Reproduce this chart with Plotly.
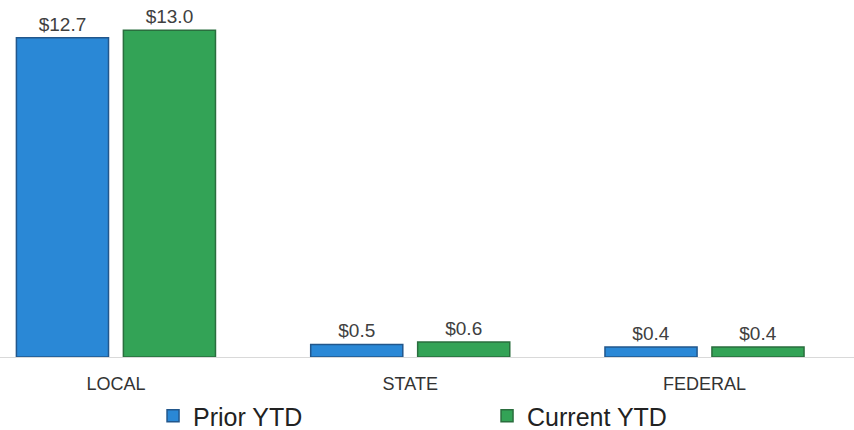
import plotly.graph_objects as go

categories = ["LOCAL", "STATE", "FEDERAL"]
prior_ytd = [12.7, 0.5, 0.4]
current_ytd = [13.0, 0.6, 0.4]
series_names = ["Prior YTD", "Current YTD"]

def labels(vals):
    return [f"${v:.1f}" for v in vals]

fig = go.Figure()
fig.add_trace(go.Bar(
    x=categories, y=prior_ytd, name=series_names[0],
    marker=dict(color="#2a88d6", line=dict(color="#22578c", width=1.5)),
    text=labels(prior_ytd), textposition="outside", cliponaxis=False,
    textfont=dict(size=19, color="#404040"),
))
fig.add_trace(go.Bar(
    x=categories, y=current_ytd, name=series_names[1],
    marker=dict(color="#33a356", line=dict(color="#2a6e3e", width=1.5)),
    text=labels(current_ytd), textposition="outside", cliponaxis=False,
    textfont=dict(size=19, color="#404040"),
))

fig.update_layout(
    width=854, height=430,
    margin=dict(l=0, r=0, t=0, b=73, autoexpand=False),
    paper_bgcolor="white", plot_bgcolor="white",
    font=dict(family="Liberation Sans, Arial, sans-serif", color="#333333"),
    barmode="group", bargap=0.273, bargroupgap=0.139,
    xaxis=dict(range=[-0.394, 2.508], showgrid=False, showline=True,
               linecolor="#d9d9d9", linewidth=1, ticks="",
               ticklabelstandoff=10,
               tickfont=dict(size=18, color="#333333")),
    yaxis=dict(range=[0, 14.2], visible=False),
    showlegend=True,
    legend=dict(orientation="h", x=0.1792, xanchor="left",
                y=14 / 430, yref="container", yanchor="middle",
                font=dict(size=25, color="#222222"),
                entrywidth=289, entrywidthmode="pixels",
                itemwidth=30),
)
fig.write_html("out.html", config={"displayModeBar": False},
               post_script="document.body.style.margin='0';")
